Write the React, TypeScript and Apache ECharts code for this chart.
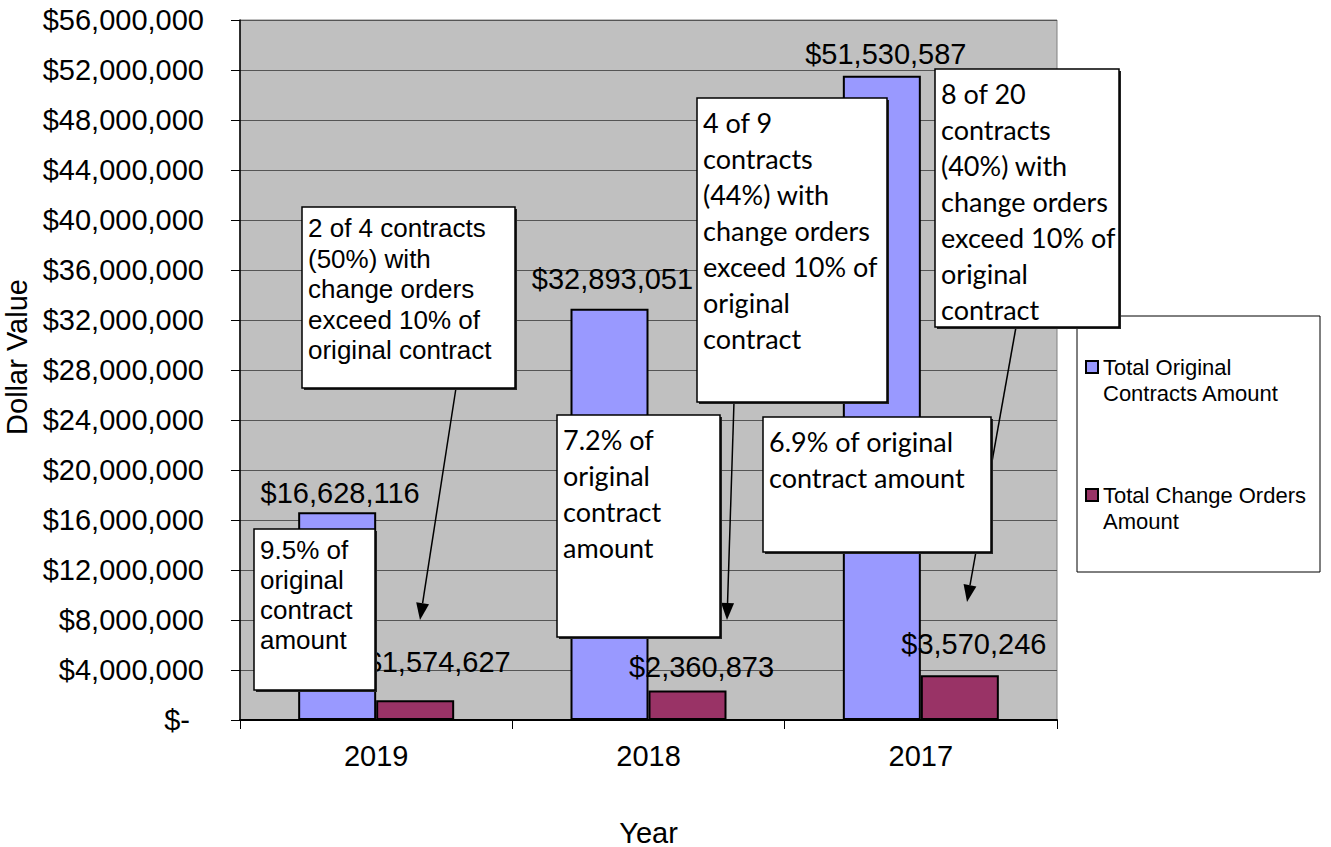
import React, { useEffect, useRef } from "react";
import * as echarts from "echarts";

// ---- data ----
const categories = ["2019", "2018", "2017"];
const seriesNames = ["Total Original Contracts Amount", "Total Change Orders Amount"];
const originalAmounts = [16628116, 32893051, 51530587];
const changeOrderAmounts = [1574627, 2360873, 3570246];
const yMin = 0;
const yMax = 56000000;
const yInterval = 4000000;

const annotationTexts = [
  "2 of 4 contracts\n(50%) with\nchange orders\nexceed 10% of\noriginal contract",
  "9.5% of\noriginal\ncontract\namount",
  "4 of 9\ncontracts\n(44%) with\nchange orders\nexceed 10% of\noriginal\ncontract",
  "8 of 20\ncontracts\n(40%) with\nchange orders\nexceed 10% of\noriginal\ncontract",
  "7.2% of\noriginal\ncontract\namount",
  "6.9% of original\ncontract amount",
];

// ---- presentation ----
const ARIAL = "'Liberation Sans', Arial, sans-serif";
const CALIBRI = "Lato, 'Noto Sans', sans-serif";
const FS = 29;
const blueLabelOffsets = [[3, 0], [3, -10], [4, -2]];
const redLabelOffsets = [[23, -19], [14, -4], [14, -12]];

// boxes: x, y, w, h, font family, font size, line height
const boxLayout = [
  { x: 302, y: 207, w: 213, h: 181, font: ARIAL, size: 26, lh: 30.5 },
  { x: 254, y: 529, w: 121, h: 161, font: ARIAL, size: 26, lh: 30 },
  { x: 697, y: 98, w: 190, h: 304, font: CALIBRI, size: 27, lh: 36 },
  { x: 935, y: 69, w: 184, h: 258, font: CALIBRI, size: 27, lh: 36 },
  { x: 557, y: 415, w: 163, h: 222, font: CALIBRI, size: 27, lh: 36 },
  { x: 763, y: 417, w: 228, h: 135, font: CALIBRI, size: 27, lh: 36 },
];
const arrows = [
  [456, 388, 420, 620],
  [734, 402, 727, 620],
  [1016, 327, 967, 602],
];

function money(v: number): string {
  return "$" + Math.round(v).toLocaleString("en-US");
}

function arrowElements(a: number[]) {
  const [x1, y1, x2, y2] = a;
  const dx = x2 - x1, dy = y2 - y1;
  const L = Math.hypot(dx, dy);
  const ux = dx / L, uy = dy / L;
  const hl = 17, hw = 6.5;
  const bx = x2 - ux * hl, by = y2 - uy * hl;
  return [
    {
      type: "line",
      z: 90,
      shape: { x1, y1, x2: bx, y2: by },
      style: { stroke: "#000", lineWidth: 1.5 },
    },
    {
      type: "polygon",
      z: 90,
      shape: {
        points: [
          [x2, y2],
          [bx - uy * hw, by + ux * hw],
          [bx + uy * hw, by - ux * hw],
        ],
      },
      style: { fill: "#000" },
    },
  ];
}

export default function App() {
  const ref = useRef<HTMLDivElement>(null);
  useEffect(() => {
    if (!ref.current) return;
    const chart = echarts.init(ref.current, null, { renderer: "svg" });

    const graphics: any[] = [];
    // legend frame
    graphics.push({
      type: "rect",
      z: 1,
      shape: { x: 1077, y: 316, width: 243, height: 256 },
      style: { fill: "#fff", stroke: "#000", lineWidth: 1 },
    });
    arrows.forEach((a) => graphics.push(...arrowElements(a)));
    annotationTexts.forEach((t, i) => {
      const b = boxLayout[i];
      graphics.push({
        type: "rect",
        z: 100,
        shape: { x: b.x + 2, y: b.y + 2, width: b.w, height: b.h },
        style: { fill: "#222" },
      });
      graphics.push({
        type: "rect",
        z: 101,
        shape: { x: b.x, y: b.y, width: b.w, height: b.h },
        style: { fill: "#fff", stroke: "#000", lineWidth: 1.5 },
      });
      graphics.push({
        type: "text",
        z: 102,
        x: b.x + 6,
        y: b.y + 6,
        style: {
          text: t,
          fontFamily: b.font,
          fontSize: b.size,
          lineHeight: b.lh,
          fill: "#000",
          align: "left",
          verticalAlign: "top",
        },
      });
    });

    const legendNames: Record<string, string> = {
      [seriesNames[0]]: "\nTotal Original\nContracts Amount",
      [seriesNames[1]]: "\nTotal Change Orders\nAmount",
    };

    chart.setOption({
      animation: false,
      backgroundColor: "#fff",
      grid: {
        left: 240,
        top: 20,
        right: 274,
        bottom: 127,
        outerBoundsMode: "none",
        containLabel: false,
        show: true,
        backgroundColor: "#C0C0C0",
        borderColor: "#808080",
        borderWidth: 1,
      },
      legend: {
        orient: "vertical",
        left: 1085,
        top: 328,
        padding: 0,
        itemGap: 50,
        itemWidth: 12,
        itemHeight: 12,
        icon: "rect",
        z: 5,
        formatter: (n: string) => legendNames[n] || n,
        textStyle: {
          fontFamily: ARIAL,
          fontSize: 22,
          lineHeight: 26,
          color: "#000",
        },
        itemStyle: { borderColor: "#000", borderWidth: 2 },
        data: seriesNames,
      },
      xAxis: {
        type: "category",
        data: categories,
        name: "Year",
        nameLocation: "middle",
        nameGap: 98,
        nameTextStyle: { fontFamily: ARIAL, fontSize: FS, color: "#000" },
        axisLine: { lineStyle: { color: "#000", width: 2 } },
        axisTick: { show: true, length: 9, lineStyle: { color: "#000", width: 1 } },
        axisLabel: { fontFamily: ARIAL, fontSize: FS, color: "#000", margin: 21 },
      },
      yAxis: {
        type: "value",
        min: yMin,
        max: yMax,
        interval: yInterval,
        name: "Dollar Value",
        nameLocation: "middle",
        nameGap: 196,
        nameRotate: 90,
        nameTextStyle: {
          fontFamily: ARIAL,
          fontSize: FS,
          color: "#000",
          padding: [0, 0, 0, 26],
        },
        axisLine: { show: true, lineStyle: { color: "#000", width: 1.5 } },
        axisTick: { show: true, length: 9, lineStyle: { color: "#000" } },
        splitLine: { lineStyle: { color: "#555", width: 1 } },
        axisLabel: {
          fontFamily: ARIAL,
          fontSize: FS,
          color: "#000",
          margin: 36,
          formatter: (v: number) => (v === 0 ? "{z|$-}" : money(v)),
          rich: {
            z: { fontFamily: ARIAL, fontSize: FS, color: "#000", padding: [0, 14, 0, 0] },
          },
        },
      },
      series: [
        {
          name: seriesNames[0],
          type: "bar",
          barWidth: 78,
          barGap: "0%",
          itemStyle: { color: "#9999FF", borderColor: "#000", borderWidth: 2 },
          data: originalAmounts.map((v, i) => ({
            value: v,
            label: { offset: blueLabelOffsets[i] },
          })),
          label: {
            show: true,
            position: "top",
            distance: 5,
            fontFamily: ARIAL,
            fontSize: FS,
            color: "#000",
            formatter: (p: any) => money(p.value),
          },
        },
        {
          name: seriesNames[1],
          type: "bar",
          barWidth: 78,
          barGap: "0%",
          itemStyle: { color: "#993366", borderColor: "#000", borderWidth: 2 },
          data: changeOrderAmounts.map((v, i) => ({
            value: v,
            label: { offset: redLabelOffsets[i] },
          })),
          label: {
            show: true,
            position: "top",
            distance: 5,
            fontFamily: ARIAL,
            fontSize: FS,
            color: "#000",
            formatter: (p: any) => money(p.value),
          },
        },
      ],
      graphic: graphics,
    });
    return () => chart.dispose();
  }, []);
  return (
    <div
      ref={ref}
      style={{ position: "fixed", left: 0, top: 0, width: 1331, height: 847 }}
    />
  );
}
